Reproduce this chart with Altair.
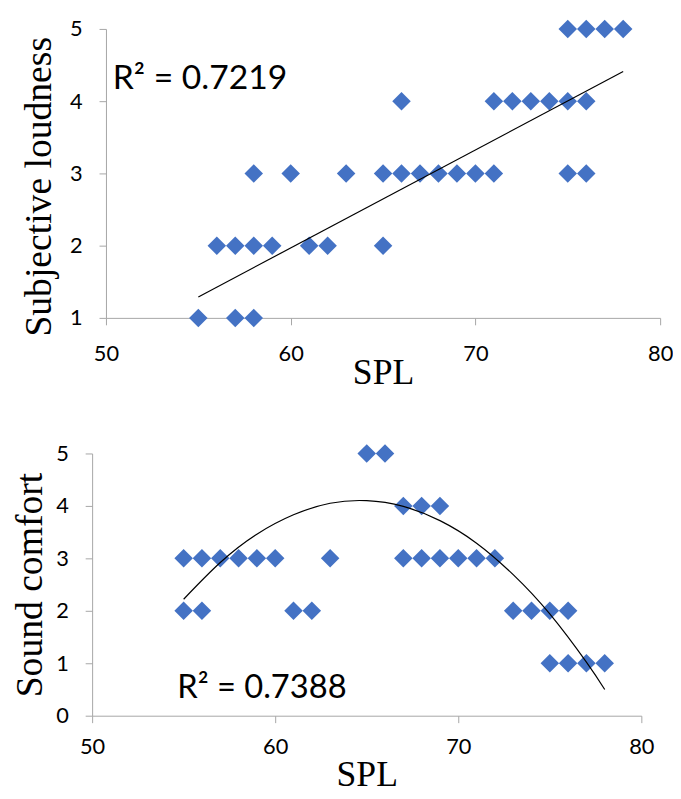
import altair as alt
import pandas as pd

# ---------------- data ----------------
# Top panel: Subjective loudness vs SPL
loud_spl = [75, 76, 77, 78,
            66, 71, 72, 73, 74, 75, 76,
            58, 60, 63, 65, 66, 67, 68, 69, 70, 71, 75, 76,
            56, 57, 58, 59, 61, 62, 65,
            55, 57, 58]
loud_val = [5, 5, 5, 5,
            4, 4, 4, 4, 4, 4, 4,
            3, 3, 3, 3, 3, 3, 3, 3, 3, 3, 3, 3,
            2, 2, 2, 2, 2, 2, 2,
            1, 1, 1]
loud_trend_spl = [55, 78]
loud_trend_val = [1.29, 4.41]
loud_r2_text = ["R² = 0.7219"]
loud_r2_spl = [50.37]
loud_r2_val = [4.17]

# Bottom panel: Sound comfort vs SPL
comfort_spl = [65, 66,
               67, 68, 69,
               55, 56, 57, 58, 59, 60, 63, 67, 68, 69, 70, 71, 72,
               55, 56, 61, 62, 73, 74, 75, 76,
               75, 76, 77, 78]
comfort_val = [5, 5,
               4, 4, 4,
               3, 3, 3, 3, 3, 3, 3, 3, 3, 3, 3, 3, 3,
               2, 2, 2, 2, 2, 2, 2, 2,
               1, 1, 1, 1]
comfort_trend_spl = [55, 57, 59, 61, 63, 65, 67, 69, 71, 73, 75, 77, 78]
comfort_trend_val = [2.22, 2.92, 3.46, 3.83, 4.05, 4.10, 3.99, 3.72, 3.29, 2.69, 1.94, 1.02, 0.50]
comfort_r2_text = ["R² = 0.7388"]
comfort_r2_spl = [54.65]
comfort_r2_val = [0.34]

x_ticks = [50, 60, 70, 80]
loud_ticks = [1, 2, 3, 4, 5]
comfort_ticks = [0, 1, 2, 3, 4, 5]

# ---------------- style ----------------
SANS = "Lato"
SERIF = "Liberation Serif"
GRAY = "#A6A6A6"
BLUE = "#4472C4"
LABEL_SIZE = 22


def x_axis(label_pad, title_x, title_y):
    return alt.Axis(values=x_ticks, grid=False, domainColor=GRAY, tickColor=GRAY,
                    tickSize=7, labelFont=SANS, labelFontSize=LABEL_SIZE, labelColor="black",
                    labelPadding=label_pad, labelBaseline="alphabetic", labelFlush=False,
                    title="SPL", titleFont=SERIF, titleFontSize=36, titleFontWeight="normal",
                    titleColor="black", titleBaseline="alphabetic", titleAlign="center",
                    titleX=title_x, titleY=title_y)


def y_axis(vals, title, title_x, title_y, offset=0):
    return alt.Axis(values=vals, grid=False, domainColor=GRAY, tickColor=GRAY,
                    tickSize=7, labelFont=SANS, labelFontSize=LABEL_SIZE, labelColor="black",
                    labelPadding=17, labelFlush=False, labelAlign="right", offset=offset,
                    title=title, titleFont=SERIF, titleFontSize=38, titleFontWeight="normal",
                    titleColor="black", titleAngle=270, titleBaseline="alphabetic",
                    titleAlign="center", titleX=title_x, titleY=title_y)


def panel(pts_x, pts_y, tr_x, tr_y, txt, txt_x, txt_y, x_enc, y_enc, width, height,
          font_size, interp):
    pts = pd.DataFrame({"SPL": pts_x, "value": pts_y})
    trend = pd.DataFrame({"SPL": tr_x, "value": tr_y})
    note = pd.DataFrame({"SPL": txt_x, "value": txt_y, "label": txt})
    points = alt.Chart(pts).mark_point(shape="diamond", filled=True, size=350,
                                       color=BLUE, opacity=1).encode(x=x_enc, y=y_enc)
    line = alt.Chart(trend).mark_line(color="black", strokeWidth=1.2,
                                      interpolate=interp).encode(x=x_enc, y=y_enc)
    text = alt.Chart(note).mark_text(align="left", baseline="alphabetic", font=SANS,
                                     fontSize=font_size, color="black").encode(
        x=x_enc, y=y_enc, text="label:N")
    return alt.layer(points, line, text).properties(width=width, height=height)


top_x = alt.X("SPL:Q", scale=alt.Scale(domain=[50, 80], nice=False, zero=False),
              axis=x_axis(36, 280, 66))
top_y = alt.Y("value:Q", scale=alt.Scale(domain=[1, 5], nice=False, zero=False),
              axis=y_axis(loud_ticks, "Subjective loudness", -56, 159))
top = panel(loud_spl, loud_val, loud_trend_spl, loud_trend_val, loud_r2_text,
            loud_r2_spl, loud_r2_val, top_x, top_y, 560, 292, 34, "linear")

bot_x = alt.X("SPL:Q", scale=alt.Scale(domain=[50, 80], range=[-14, 541], nice=False, zero=False),
              axis=x_axis(31, 263.5, 71))
bot_y = alt.Y("value:Q", scale=alt.Scale(domain=[0, 5], nice=False),
              axis=y_axis(comfort_ticks, "Sound comfort", -51, 132.5, offset=14))
bottom = panel(comfort_spl, comfort_val, comfort_trend_spl, comfort_trend_val, comfort_r2_text,
               comfort_r2_spl, comfort_r2_val, bot_x, bot_y, 541, 265, 33, "natural")

chart = alt.vconcat(top, bottom, spacing=53).properties(
    padding={"left": 3, "top": 6, "right": 0, "bottom": 0},
    background="white",
).configure_view(strokeWidth=0)

chart.save("out.html", embed_options={"renderer": "svg", "actions": False})
